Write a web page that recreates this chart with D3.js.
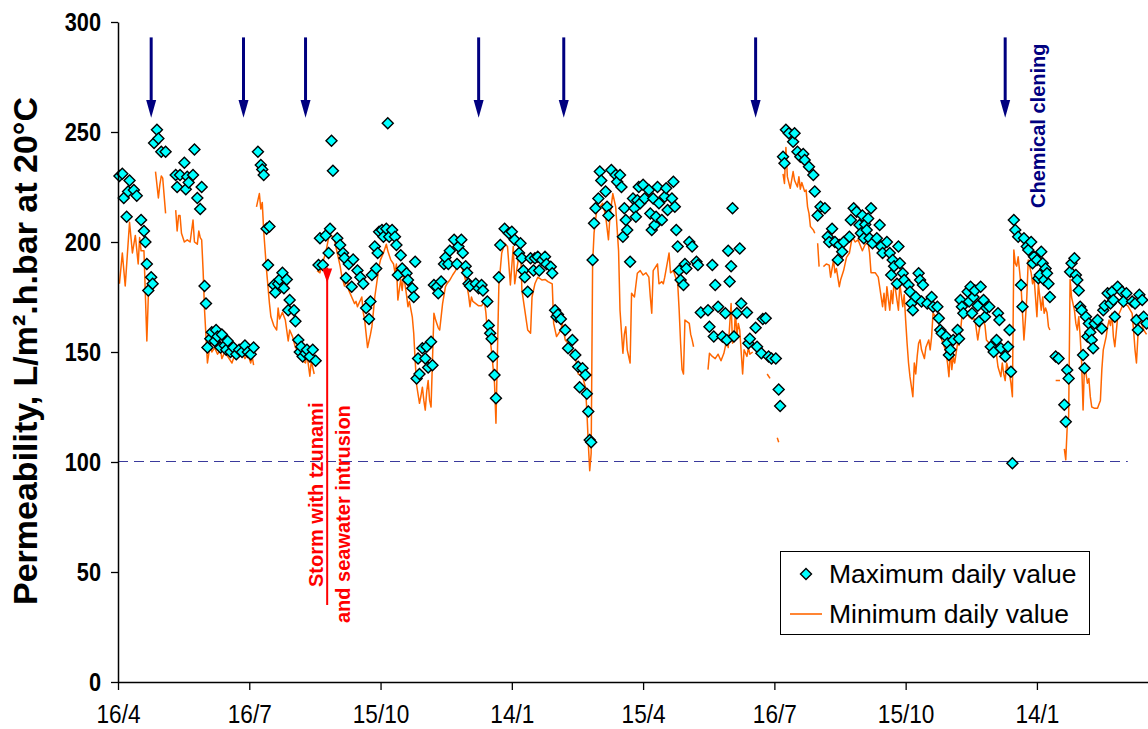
<!DOCTYPE html>
<html><head><meta charset="utf-8">
<script src="https://cdn.jsdelivr.net/npm/d3@7"></script>
<style>body{margin:0;background:#fff;} svg{display:block;font-family:"Liberation Sans",Arial,sans-serif;}</style>
</head><body><svg id="chart" width="1148" height="729"></svg>
<script>
// ---------- data ----------
const startDate = new Date(Date.UTC(2006, 3, 16));
const spanDays = 714;
const xTickDays = [0, 91, 182, 273, 364, 455, 546, 637];
const xTickLabels = ["16/4", "16/7", "15/10", "14/1", "15/4", "16/7", "15/10", "14/1"];
const yTicks = [0, 50, 100, 150, 200, 250, 300];

const maxDays = [1,3,4,6,7,8,11,13,16,18,19,20,21,23,24,25,27,28,30,33,40,41,43,46,47,48,49,52,53,55,57,58,60,61,62,64,65,67,68,69,71,72,74,75,76,78,80,82,84,86,88,90,92,94,
97,99,100,101,103,104,105,108,109,111,112,114,115,117,118,119,122,123,125,126,127,128,130,131,133,135,137,139,140,142,144,146,147,148,149,152,154,156,157,158,160,162,163,166,168,170,172,174,175,176,178,179,180,181,
183,184,186,187,188,190,192,193,194,196,197,200,201,204,205,206,207,208,209,211,213,214,215,217,218,219,221,222,224,226,227,229,230,233,235,236,238,239,241,242,243,244,248,250,252,253,256,257,258,259,260,261,262,264,265,268,271,
273,275,278,279,280,281,282,284,286,288,289,291,292,294,296,297,300,301,303,304,305,307,310,312,315,317,319,320,322,324,325,326,327,328,329,330,331,333,334,335,338,339,340,342,345,346,348,349,350,351,352,353,355,357,358,359,360,361,
362,364,365,368,369,370,371,372,373,374,375,377,379,380,381,384,385,386,387,388,389,390,392,393,394,396,398,401,402,404,409,410,412,413,414,416,419,421,422,423,424,425,426,427,429,431,432,436,437,438,442,443,446,447,449,451,453,456,458,459,
461,462,463,465,468,469,471,473,475,476,479,482,483,485,487,490,492,493,495,497,499,500,502,503,507,508,510,512,514,515,516,517,518,519,520,521,522,523,526,528,529,530,533,535,536,537,538,540,541,
542,544,545,548,549,550,551,553,555,556,557,558,561,564,565,568,569,570,571,574,575,576,577,579,582,583,584,585,586,589,590,591,592,593,594,596,597,598,600,601,602,604,605,607,609,610,611,612,615,617,618,619,620,621,622,624,626,627,628,630,
631,633,634,635,637,638,639,640,641,642,643,644,645,646,650,652,656,657,658,659,660,661,663,664,665,666,667,668,669,670,671,672,673,674,675,676,677,679,682,683,684,686,688,689,690,691,693,696,697,699,703,705,706,707,708,710,711,713];
const maxValues = [230,231,220,211.5,223,228,223.6,221,210,205,200,190,178,184,181,245,251,247,241,241,230.5,225,230.5,236,224,229.7,227,230.5,242,220,215,225,180,172,152,156,159,155,160,157,152,158,153,151,155,150,152,149,151,150,153,150,149,152,
241,235,233,230.5,206,189.5,207,180.5,177,181,183,186,179,183,169,173.6,169,164,155.5,150,152.4,148,149.4,151,148,151,146,189.5,201.7,189.5,203,195,206,246,232.4,201.7,198.6,195,192.7,183.6,190,179.7,192,187,184,181,170,165,173,185,198,188,195,204.7,
205.5,202.4,206,254,202.4,205.5,202.4,198.6,185,194,188,185.8,182.7,179,175,191,138,147,140,151.7,147,152.4,143,154.7,144,180.5,179.7,176.7,182,190,193,190,196,201,190,198,201,195,189,186,181,180,181,179,180.5,178,173,162,158.5,156,148,139.5,129,184,198.6,206,204,
204.7,201,195,199.4,192.6,187,184,177.4,192.6,187,192.6,193.3,187,191.8,193.3,190,188.8,185.8,169,166,167,165,160,151.7,155.5,148.6,143.3,134,142.6,139.5,131,123,110,109,191.8,208.5,215.3,219.8,232,228,223,216,212,232.7,230.5,227.4,230.5,225,202.4,215.3,210,205.5,191,219.8,215.3,211.5,219,225,
217.6,226,219.8,223.6,213,205.5,219.8,207.7,211.5,225,217.6,210,220.6,224.4,214.5,219.8,227.4,216,205.5,198,187,182.7,180.5,190,188,200,198,191,189.5,168,169,161.5,189.5,157,180.5,170.6,157,167.6,155.5,196,182,189,215.3,157,167.6,197,172,168,154,156,161,152.4,149.4,165,165.3,148,147,147,133,125.5,
238.8,235.8,251,249.4,245.6,249.4,241,238.8,240,237.3,234.2,230.5,223,212,216,215.3,202.4,200,206,200,191.8,198.6,195.6,200,202.4,210,215.3,213.8,207.7,204,212,201.7,208,205.5,210.7,201.7,215.3,199.4,201.7,207.7,198,195,200,195,185,191.8,189,181,198,
190.3,185.8,182.7,180.5,177.4,172,169,175,185.8,182.7,173,180.5,172,175,170.6,170.6,165.3,160,158.5,157,154,148.6,151,155.5,160,156,173.6,170.6,167.6,177.4,173,179.7,167.6,175,178,171,164,179.7,173.6,166,170,170.6,152.4,150,155.5,167.6,164.5,151.7,148,152.4,160,141,99.4,210,205.5,202.4,180.5,170.6,201.7,198,
196.4,200,190.3,193.3,191.8,183.5,185,195.6,190.3,182.7,188,185.8,181,175,148,147,126,118.3,141.8,138,186.5,190.3,192.6,185,182.7,178,170.6,169,148.6,142.6,166,157,163,159,155.5,151.7,163,164.5,160.7,169,171,176.7,172,177.4,173.6,166,179.7,177.4,173,176.7,173,172,164.5,160,176,173.6,166,163];

// null value = gap in the minimum line
const minDays = [1,3,5,8,10,12,14,15,16,18,20,21,22,23,26,28,29,30,31,33,34,40,41,42,43,44,46,48,50,52,53,55,56,57,58,59,60,62,64,65,67,69,71,72,74,76,79,81,83,86,88,90,92,93,94,95,
96,97,98,99,100,101,103,105,106,108,110,111,112,114,116,118,119,121,123,125,127,128,130,131,133,134,136,137,138,140,141,144,146,148,150,152,154,155,157,159,160,162,164,165,166,169,170,171,173,175,176,177,178,181,182,
184,186,187,189,191,192,193,194,196,197,198,200,201,202,204,205,206,207,209,210,211,212,213,214,215,216,217,219,220,221,222,223,224,225,227,228,230,232,234,236,238,239,240,242,243,244,245,246,248,250,252,254,255,256,258,259,260,261,262,264,266,268,
270,272,274,275,277,279,280,282,283,284,286,287,289,291,294,296,298,301,302,304,307,308,310,312,313,315,317,319,322,324,325,326,327,328,329,330,331,332,334,336,338,340,341,343,345,347,348,350,351,352,353,355,356,358,360,362,
363,364,366,368,369,370,371,374,375,377,378,379,382,383,385,388,389,390,391,392,393,396,397,398,399,400,409,410,412,414,416,418,420,422,423,425,426,427,428,429,430,431,433,434,436,437,438,440,441,450,452,453,457,458,459,
461,462,463,464,466,468,469,471,472,473,474,476,477,478,479,480,482,483,484,485,486,487,489,491,493,494,496,497,498,500,501,503,505,507,509,511,513,516,518,520,521,522,525,527,530,531,532,533,534,535,536,537,538,541,
542,544,545,546,547,548,549,551,552,553,554,555,556,557,559,560,562,563,564,565,567,569,571,572,574,575,576,577,578,579,580,582,583,585,587,590,592,594,596,597,599,601,602,604,605,607,608,610,612,613,614,615,616,618,619,620,621,622,623,624,626,627,628,629,630,631,
633,634,635,636,637,638,640,641,642,643,644,645,646,647,650,653,654,656,657,658,659,660,661,663,664,665,666,667,668,669,670,672,673,674,675,677,679,681,682,683,685,686,687,688,689,690,691,693,695,697,700,703,704,705,706,707,708,711,713];
const minValues = [181,195,180,209,195,203,190,202,196,196,155,175,180,null,232,220,226,230,229,213,null,214.5,205,212,212,204,200,201,200,210,200,199,205,202,201,187,169,145,154,150,152,149,151,147,150,148,145,149,148,150,147,149,145,148,144,null,
216,219,222,215,218,205,187,172,166,162,160,170,165,168,164.5,155,160,157,152,151,149,146,145,149,139,146,140,null,187,186,189,195,202,203,201,195,189,185,180,183,178,175,172,173,170.6,175,168,164.5,152,158,161.5,168,175,189,192,
195,199,196,192,190,186,190,173.6,183,178,185,176,170.6,173,166,158.5,146,135,126.7,130,134,128,123.6,132,137,128,125,167.6,165,163,161,160,166,172,179.7,181,182.7,185,187,191.8,190,187,185,179.7,176,170.6,175,173,172,171,171,173,168,160,155.5,150,143,135.8,117.6,180,195,199.4,
198,180.5,198,181,190,198,178,169,164.5,160,158.5,175,181,184,182.7,183,182,181,163,157,160,163,155.5,154,152.4,150,148,140,139,134,123.6,108.5,96,104,190,204,210,214.5,216,217.6,212,201,211.5,222,216,196,169,149.4,158,161.5,151,145,176.7,175,185.8,187,
186,185,186,184,175,167.6,187,190,181,182,181,184,195,186,187,181,169,154,142,140,164.5,163,158,155.5,152.4,null,142,149.4,148,147,149,146,149.4,155.5,152,172,154,155,169,157,163,160,140,151,148,152,149,150,null,140,138,null,111,109,null,
231,226.6,243,229.7,224.4,232,228,225,229.7,224,227,223,223.6,216,213,207,205.5,204,null,199.4,188.8,null,188.8,190,189.5,184,191.8,186,188,179.7,183,187,193,195,202.4,200,201,196,199,199.4,195,186,186,184,170.6,176.7,169,179.7,174,169,178,172,182.7,169,
181,170.6,176,164.5,154,145,138.8,129.7,145,140,148,154,155.5,151,147,152,155.5,151,157,167.6,166,163,155.5,154,150,145,138.8,151,142,148,145,154,153,166,169,166,165,165,155.5,160,166,162,155.5,154,152,149.4,154,143.3,138.8,145,140,137,145,140,135.8,129.7,196.4,190.3,189,193.3,180,167.6,155.5,164.5,175,191.8,
186,181,184,175,166,181,169,175,167.6,170,168,161.5,160,null,137,137,null,106,101,116,120.6,183,175,169,163,160,166,157,145,123.6,145,135.8,138,129.7,125,124.4,124.4,128,142,151,157,161.5,164.5,162,167.6,157,152.4,166,169,172,171,167.6,160,151,145,157,166,160,158];

const cleaningDays = [23, 87, 130, 250, 309, 442, 615];
const cleaningArrow = [293, 264.5, 256.5];   // top, head base, tip (permeability units)
const stormDay = 145;
const stormArrow = [35, 188, 181.5];          // bottom, head base, tip
const thresholdValue = 100;
const thresholdEndDay = 700;
const legendLabels = ["Maximum daily value", "Minimum daily value"];
const yTitle = "Permeability, L/m².h.bar at 20°C";
const stormText = ["Storm with tzunami", "and seawater intrusion"];
const cleaningText = "Chemical clening";

// ---------- chart ----------
const svg = d3.select("#chart");
const day = d => d3.utcDay.offset(startDate, d);
const x = d3.scaleUtc().domain([startDate, day(spanDays)]).range([118, 1148]);
const y = d3.scaleLinear().domain([0, 300]).range([682, 22]);

const navy = "#000080", orange = "#FF6600", red = "#FF0000";

// threshold line
svg.append("line")
  .attr("x1", x(day(0))).attr("x2", x(day(thresholdEndDay)))
  .attr("y1", y(thresholdValue) - 0.5).attr("y2", y(thresholdValue) - 0.5)
  .attr("stroke", "#3a3a9c").attr("stroke-width", 1.2).attr("stroke-dasharray", "10,6");

// minimum line
const minData = minDays.map((d, i) => ({d, v: minValues[i]}));
svg.append("path")
  .datum(minData)
  .attr("fill", "none").attr("stroke", orange).attr("stroke-width", 1.5)
  .attr("stroke-linejoin", "round")
  .attr("d", d3.line().defined(p => p.v != null).x(p => x(day(p.d))).y(p => y(p.v)));

// maximum diamonds
const maxData = maxDays.map((d, i) => ({d, v: maxValues[i]}));
const diamond = r => `M0,${-r}L${r},0L0,${r}L${-r},0Z`;
svg.append("g").selectAll("path").data(maxData).join("path")
  .attr("transform", p => `translate(${x(day(p.d))},${y(p.v)})`)
  .attr("d", diamond(5.5))
  .attr("fill", "#00FFFF").attr("stroke", "#000").attr("stroke-width", 1.4);

// cleaning arrows
const ca = svg.append("g");
cleaningDays.forEach(cd => {
  const cx = x(day(cd));
  ca.append("line").attr("x1", cx).attr("x2", cx)
    .attr("y1", y(cleaningArrow[0])).attr("y2", y(cleaningArrow[1]) + 1)
    .attr("stroke", navy).attr("stroke-width", 3);
  ca.append("path")
    .attr("d", `M${cx - 5},${y(cleaningArrow[1])}L${cx + 5},${y(cleaningArrow[1])}L${cx},${y(cleaningArrow[2])}Z`)
    .attr("fill", navy);
});

// storm arrow
const sx = x(day(stormDay));
svg.append("line").attr("x1", sx).attr("x2", sx)
  .attr("y1", y(stormArrow[0])).attr("y2", y(stormArrow[1]) - 1)
  .attr("stroke", red).attr("stroke-width", 2);
svg.append("path")
  .attr("d", `M${sx - 5},${y(stormArrow[1])}L${sx + 5},${y(stormArrow[1])}L${sx},${y(stormArrow[2])}Z`)
  .attr("fill", red);

// axes
const yAxis = svg.append("g").attr("transform", "translate(118,0)")
  .call(d3.axisLeft(y).tickValues(yTicks).tickSize(7).tickSizeOuter(0));
yAxis.select(".domain").attr("stroke", "#000").attr("stroke-width", 1.5);
yAxis.selectAll(".tick line").attr("stroke", "#000").attr("stroke-width", 1.3);
yAxis.selectAll("text").attr("font-size", 25).attr("font-weight", "bold").attr("fill", "#000")
  .attr("font-family", "Liberation Sans, Arial, sans-serif")
  .attr("x", -17 / 0.87).attr("transform", "scale(0.87,1)");

const xAxis = svg.append("g").attr("transform", "translate(0,682)")
  .call(d3.axisBottom(x).tickValues(xTickDays.map(day)).tickFormat((d, i) => xTickLabels[i]).tickSize(8).tickSizeOuter(0));
xAxis.select(".domain").attr("stroke", "#000").attr("stroke-width", 1.5);
xAxis.selectAll(".tick line").attr("stroke", "#000").attr("stroke-width", 1.3);
xAxis.selectAll("text").attr("font-size", 26).attr("fill", "#000")
  .attr("font-family", "Liberation Sans, Arial, sans-serif")
  .attr("dy", null).attr("y", 41).attr("transform", "scale(0.87,1)");

// y title
svg.append("text").attr("transform", "translate(37,351) rotate(-90)")
  .attr("text-anchor", "middle").attr("font-size", 34).attr("font-weight", "bold")
  .text(yTitle);

// storm text
svg.append("text").attr("transform", "translate(323,587) rotate(-90)")
  .attr("font-size", 20).attr("font-weight", "bold").attr("fill", red).text(stormText[0]);
svg.append("text").attr("transform", "translate(350,623) rotate(-90)")
  .attr("font-size", 20).attr("font-weight", "bold").attr("fill", red).text(stormText[1]);

// chemical cleaning text
svg.append("text").attr("transform", "translate(1045,208) rotate(-90)")
  .attr("font-size", 20).attr("font-weight", "bold").attr("fill", navy).text(cleaningText);

// legend
const lg = svg.append("g");
lg.append("rect").attr("x", 780.5).attr("y", 551.5).attr("width", 309).attr("height", 83)
  .attr("fill", "#fff").attr("stroke", "#000").attr("stroke-width", 1);
lg.append("path").attr("transform", "translate(806,574)").attr("d", diamond(5.5))
  .attr("fill", "#00FFFF").attr("stroke", "#000").attr("stroke-width", 1.4);
lg.append("line").attr("x1", 790).attr("x2", 822).attr("y1", 614).attr("y2", 614)
  .attr("stroke", orange).attr("stroke-width", 1.6);
lg.append("text").attr("x", 829).attr("y", 583).attr("font-size", 26.5).text(legendLabels[0]);
lg.append("text").attr("x", 829).attr("y", 623).attr("font-size", 26.5).text(legendLabels[1]);
</script></body></html>
